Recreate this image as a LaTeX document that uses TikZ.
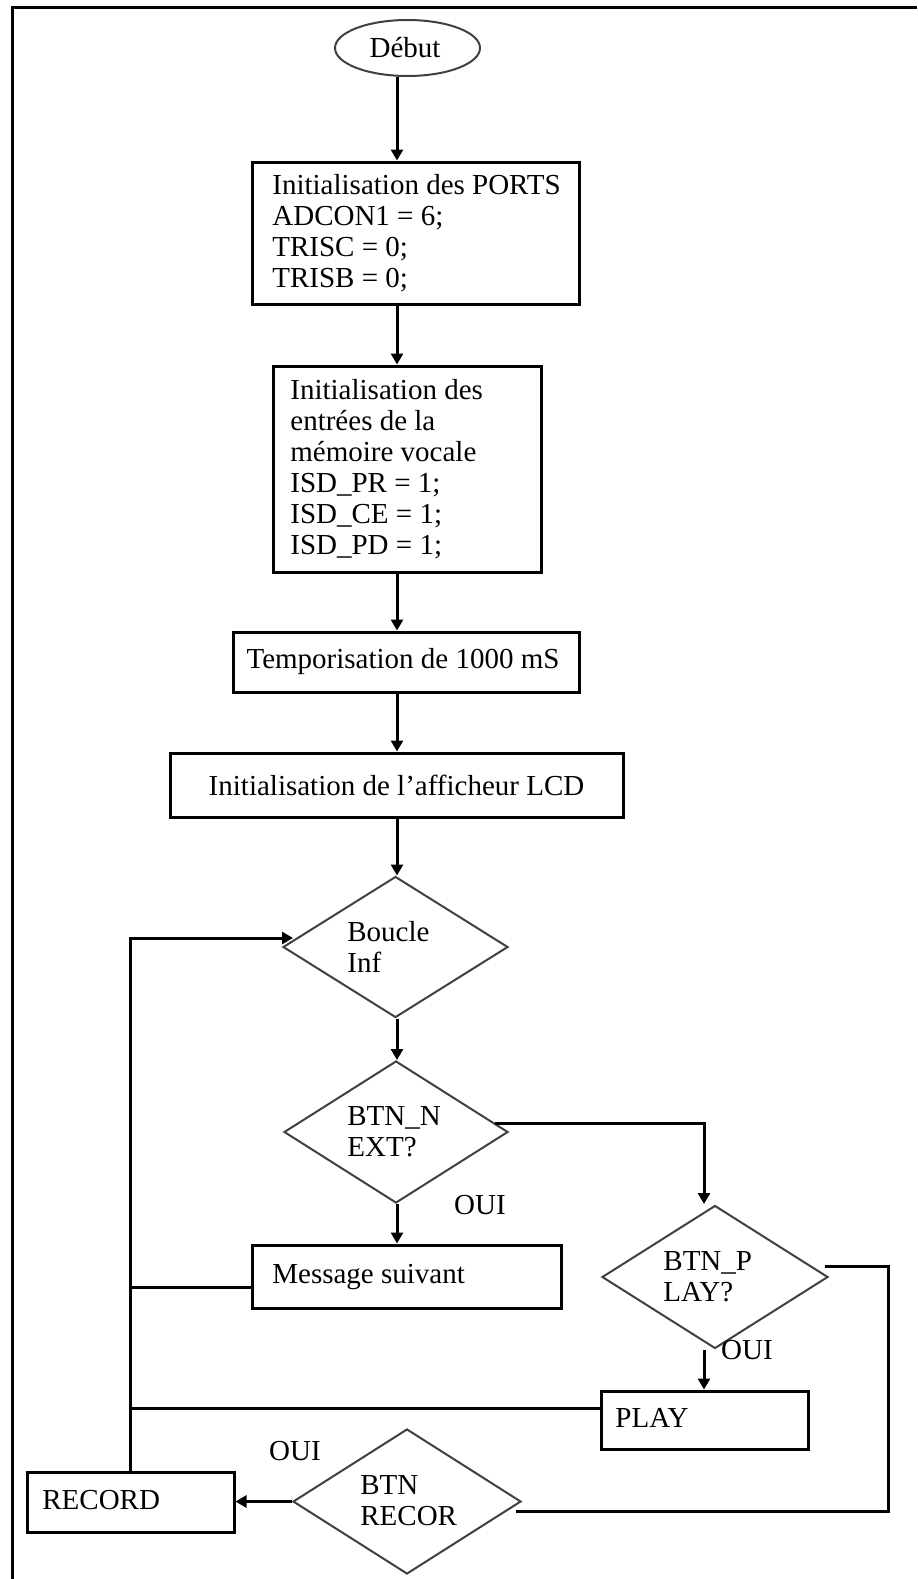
\documentclass[tikz,border=0pt]{standalone}
\usepackage{fontspec}
\setmainfont{Liberation Serif}
\usetikzlibrary{shapes.geometric,arrows.meta}
\tikzset{
  box/.style={draw=black, line width=1.5pt, rectangle, inner sep=0pt},
  dia/.style={draw=black!75, line width=1pt, diamond, inner sep=0pt},
  ell/.style={draw=black!75, line width=1pt, ellipse, inner sep=0pt},
  txt/.style={inner sep=0pt, font=\fontsize{14.5pt}{15.5pt}\selectfont, align=left},
  arr/.style={line width=1.5pt, -{Triangle[width=6pt,length=5.5pt]}},
  conn/.style={line width=1.5pt},
}
\begin{document}
\begin{tikzpicture}[x=0.5pt,y=-0.5pt]
\useasboundingbox (0,0) rectangle (917,1579);
% frame
\draw[line width=1.5pt] (12,1579) -- (12,7) -- (917,7);
% helper coordinates
\coordinate (colx) at (397,0);
\coordinate (d3col) at (704,0);
\coordinate (loopx) at (131,0);
% nodes
\node[ell, minimum width=72.5pt, minimum height=28pt] (debut) at (407.5,48) {};
\node[txt] (debutt) at (405,48) {Début};

\node[box, minimum width=163.5pt, minimum height=71pt] (b1) at (415.5,233) {};
\node[txt, anchor=west] (b1t) at (272,233) {Initialisation des PORTS\\ADCON1 = 6;\\TRISC = 0;\\TRISB = 0;};

\node[box, minimum width=134pt, minimum height=103pt] (b2) at (407,469) {};
\node[txt, anchor=west] (b2t) at (290,469) {Initialisation des\\entrées de la\\mémoire vocale\\ISD\_PR = 1;\\ISD\_CE = 1;\\ISD\_PD = 1;};

\node[box, minimum width=173pt, minimum height=30pt] (b3) at (406,662) {};
\node[txt] (b3t) at (403,662) {Temporisation de 1000 mS};

\node[box, minimum width=226.5pt, minimum height=32pt] (b4) at (396.5,785) {};
\node[txt] (b4t) at (396.5,785) {Initialisation de l'afficheur LCD};

\node[dia, minimum width=112.5pt, minimum height=70.5pt] (d1) at (395.5,947) {};
\node[txt, anchor=west] (d1t) at (347,947) {Boucle\\Inf};

\node[dia, minimum width=112pt, minimum height=71pt] (d2) at (396,1132) {};
\node[txt, anchor=west] (d2t) at (347,1132) {BTN\_N\\EXT?};

\node[box, minimum width=154.5pt, minimum height=31.5pt] (b5) at (406.5,1276.5) {};
\node[txt, anchor=west] (b5t) at (272,1277) {Message suivant};

\node[dia, minimum width=113pt, minimum height=71.5pt] (d3) at (715,1277) {};
\node[txt, anchor=west] (d3t) at (663,1277) {BTN\_P\\LAY?};

\node[box, minimum width=103.5pt, minimum height=29pt] (play) at (704.5,1420) {};
\node[txt, anchor=west] (playt) at (615,1418) {PLAY};

\node[dia, minimum width=114pt, minimum height=72.5pt] (d4) at (407,1501.5) {};
\node[txt, anchor=west] (d4t) at (360,1501) {BTN\\RECOR};

\node[box, minimum width=103.5pt, minimum height=30pt] (rec) at (130.5,1502) {};
\node[txt, anchor=west] (rect) at (42,1500) {RECORD};

\node[txt] (oui1) at (480,1205) {OUI};
\node[txt] (oui2) at (747,1350) {OUI};
\node[txt] (oui3) at (295,1451) {OUI};

% named bend points
\coordinate (d2out) at (495,1123);
\coordinate (d3in) at (704,1204);
\coordinate (d3out) at (825,1266);
\coordinate (rbend) at (888,1511);
\coordinate (d4in) at (516,1511);
\coordinate (d1in) at (293,938);

% main column
\draw[arr] (debut.south -| colx) -- (b1.north -| colx);
\draw[arr] (b1.south -| colx) -- (b2.north -| colx);
\draw[arr] (b2.south -| colx) -- (b3.north -| colx);
\draw[arr] (b3.south -| colx) -- (b4.north -| colx);
\draw[arr] (b4.south -| colx) -- (d1.north -| colx);
\draw[arr] (d1.south -| colx) -- (d2.north -| colx);
\draw[arr] (d2.south -| colx) -- (b5.north -| colx);
% branch to BTN_PLAY
\draw[arr] (d2out) -| (d3in);
\draw[arr] (d3.south -| d3col) -- (play.north -| d3col);
% branch to BTN_RECORD
\draw[conn] (d3out) -| (rbend) -- (d4in);
\draw[arr] (d4.west) -- (d4.west -| rec.east);
% returns
\draw[conn] ([yshift=-5.25pt]b5.west) -- ([yshift=-5.25pt]b5.west -| loopx);
\draw[conn] ([yshift=6pt]play.west) -- ([yshift=6pt]play.west -| loopx);
\draw[arr] (rec.north) -- (rec.north |- d1in) -- (d1in);
\end{tikzpicture}
\end{document}
